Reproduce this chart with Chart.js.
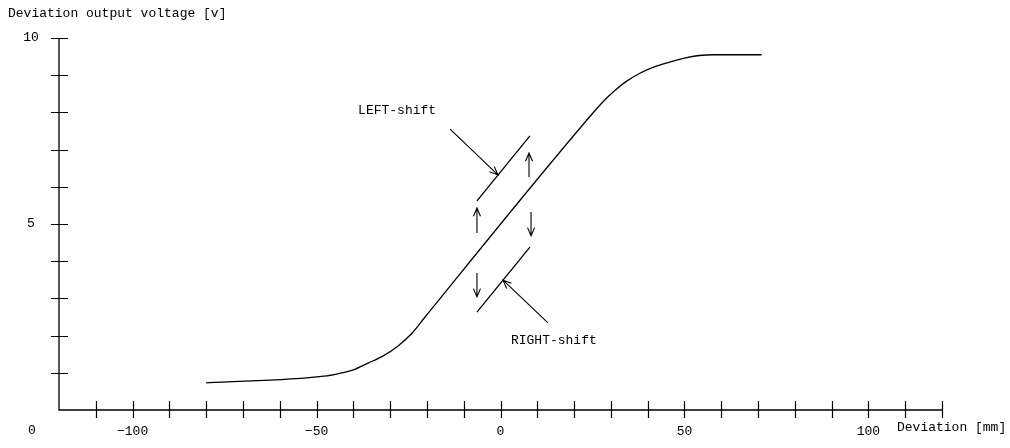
<!DOCTYPE html>
<html>
<head>
<meta charset="utf-8">
<script src="https://cdn.jsdelivr.net/npm/chart.js@4/dist/chart.umd.min.js"></script>
<style>
  html, body { margin: 0; padding: 0; background: #fff; }
  #wrap { width: 1010px; height: 448px; }
</style>
</head>
<body>
<div id="wrap"><canvas id="c" width="1010" height="448"></canvas></div>
<script>
// 数据
const curveX = [-80, -48, -44, -40, -36, -32, -28, -24, -20.5, 25, 28, 31, 34, 38, 42, 46, 50, 54, 58, 71];
const curveV = [0.73, 0.91, 0.98, 1.08, 1.26, 1.45, 1.71, 2.07, 2.50, 7.97, 8.30, 8.58, 8.82, 9.06, 9.23, 9.35, 9.46, 9.53, 9.55, 9.55];

const leftShiftX = [-6.4, 8.0];
const leftShiftV = [5.62, 7.37];
const rightShiftX = [-6.4, 8.0];
const rightShiftV = [2.63, 4.38];

// 箭头 [x1, v1, x2, v2]
const arrows = [
    [-13.7, 7.55, -0.7, 6.32],
    [12.9, 2.34, 0.7, 3.49],
    [7.75, 6.26, 7.75, 6.91],
    [-6.4, 4.76, -6.4, 5.43],
    [8.3, 5.32, 8.3, 4.68],
    [-6.4, 3.68, -6.4, 3.04]
];

const notes = [
    { text: 'LEFT-shift', x: -28.1, v: 8.04 },
    { text: 'RIGHT-shift', x: 14.5, v: 1.88 }
];

const xTickLabels = [-100, -50, 0, 50, 100];
const yTickLabels = [10, 5];
const xTickStep = 10;
const yTickStep = 1;

const FONT = '13px "Liberation Mono", "DejaVu Sans Mono", monospace';

function toPoints(xs, vs) {
    return xs.map((x, i) => ({ x: x, y: vs[i] }));
}

// 坐标轴和文字
const axesPlugin = {
    id: 'axesPlugin',
    afterDatasetsDraw(chart) {
        const ctx = chart.ctx;
        const xs = chart.scales.x;
        const ys = chart.scales.y;
        const x0 = xs.getPixelForValue(xs.min);
        const x1 = xs.getPixelForValue(xs.max);
        const y0 = ys.getPixelForValue(ys.min);
        const y1 = ys.getPixelForValue(ys.max);

        ctx.save();
        ctx.strokeStyle = '#000';
        ctx.lineWidth = 1.3;
        ctx.beginPath();
        ctx.moveTo(x0, y1);
        ctx.lineTo(x0, y0);
        ctx.lineTo(x1, y0);
        ctx.stroke();

        ctx.lineWidth = 1.2;
        ctx.beginPath();
        for (let v = xs.min + xTickStep; v <= xs.max + 0.01; v += xTickStep) {
            const p = Math.round(xs.getPixelForValue(v)) + 0.5;
            ctx.moveTo(p, y0 - 9);
            ctx.lineTo(p, y0 + 8);
        }
        for (let v = ys.min + yTickStep; v <= ys.max + 0.01; v += yTickStep) {
            const p = Math.round(ys.getPixelForValue(v)) + 0.5;
            ctx.moveTo(x0 - 8, p);
            ctx.lineTo(x0 + 9, p);
        }
        ctx.stroke();

        // 箭头
        ctx.lineWidth = 1.1;
        arrows.forEach(a => {
            const ax = xs.getPixelForValue(a[0]);
            const ay = ys.getPixelForValue(a[1]);
            const bx = xs.getPixelForValue(a[2]);
            const by = ys.getPixelForValue(a[3]);
            const ang = Math.atan2(by - ay, bx - ax);
            const h = 9;
            ctx.beginPath();
            ctx.moveTo(ax, ay);
            ctx.lineTo(bx, by);
            ctx.moveTo(bx - h * Math.cos(ang - 0.4), by - h * Math.sin(ang - 0.4));
            ctx.lineTo(bx, by);
            ctx.lineTo(bx - h * Math.cos(ang + 0.4), by - h * Math.sin(ang + 0.4));
            ctx.stroke();
        });

        ctx.fillStyle = '#000';
        ctx.font = FONT;
        ctx.textBaseline = 'middle';
        ctx.textAlign = 'center';
        xTickLabels.forEach(v => {
            ctx.fillText(v < 0 ? '\u2212' + Math.abs(v) : String(v), xs.getPixelForValue(v), 432);
        });
        yTickLabels.forEach(v => {
            ctx.fillText(String(v), 31, ys.getPixelForValue(v));
        });
        ctx.fillText('0', 32, 431);
        notes.forEach(n => {
            ctx.fillText(n.text, xs.getPixelForValue(n.x), ys.getPixelForValue(n.v));
        });

        ctx.textAlign = 'left';
        ctx.fillText('Deviation output voltage [v]', 8, 14);
        ctx.fillText('Deviation [mm]', 897, 428);
        ctx.restore();
    }
};

const lineStyle = {
    borderColor: '#000',
    borderWidth: 1.3,
    pointRadius: 0,
    showLine: true,
    fill: false
};

new Chart(document.getElementById('c'), {
    type: 'scatter',
    data: {
        datasets: [
            Object.assign({ data: toPoints(curveX, curveV), cubicInterpolationMode: 'monotone' }, lineStyle),
            Object.assign({ data: toPoints(leftShiftX, leftShiftV) }, lineStyle),
            Object.assign({ data: toPoints(rightShiftX, rightShiftV) }, lineStyle)
        ]
    },
    options: {
        responsive: false,
        animation: false,
        layout: { padding: { left: 59, right: 68, top: 38, bottom: 38 } },
        plugins: { legend: { display: false }, tooltip: { enabled: false } },
        scales: {
            x: { type: 'linear', min: -120, max: 120, display: false },
            y: { type: 'linear', min: 0, max: 10, display: false }
        }
    },
    plugins: [axesPlugin]
});
</script>
</body>
</html>
